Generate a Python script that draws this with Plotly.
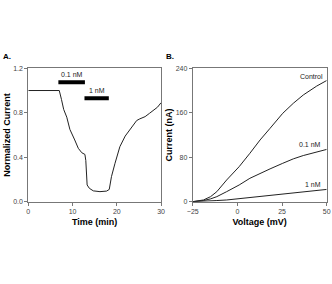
import plotly.graph_objects as go

# Panel A: normalized current vs time
time_min = [0, 2, 4, 6, 7.0, 7.5, 8.0, 8.7, 9.4, 10.5, 11.3, 12.1, 12.8, 13.0, 13.3, 13.8, 14.7, 16.2, 17.7, 18.3,
            18.8, 19.6, 20.7, 21.9, 23.4, 24.5, 25.2, 26.4, 27.4, 28.3, 29.2, 30]
norm_current = [1.0, 1.0, 0.995, 1.0, 1.0, 0.92, 0.83, 0.76, 0.65, 0.555, 0.48, 0.44, 0.425, 0.37, 0.15, 0.12, 0.097,
                0.09, 0.095, 0.11, 0.225, 0.345, 0.495, 0.59, 0.675, 0.73, 0.745, 0.765, 0.795, 0.825, 0.85, 0.89]

# Drug application periods (label, start, end, bar level)
drug_labels = ["0.1 nM", "1 nM"]
drug_start = [6.8, 12.7]
drug_end = [12.8, 18.2]
drug_level = [1.075, 0.93]

# Panel B: I-V curves
voltage_mv = [-25, -19, -15, -11.5, -6, 1, 7, 12.7, 18.3, 25.4, 31.3, 36.9, 44.4, 50]
control_na = [0, 3, 9, 18, 39, 63, 87, 111, 132, 159, 177, 192, 208, 218]
nm01_na = [0, 2, 5, 9, 18, 30, 42, 51, 59, 69, 77, 83, 89, 94]
nm1_na = [0, 0.5, 1, 2, 3, 5.4, 7.5, 10, 12, 14, 16, 17.5, 20, 22]
series_names = ["Control", "0.1 nM", "1 nM"]
label_pos_v = [41.5, 40.7, 42.5]
label_pos_i = [226, 102, 30]

fig = go.Figure()
line = dict(color="#222222", width=1)
fig.add_trace(go.Scatter(x=time_min, y=norm_current, mode="lines", line=line, xaxis="x", yaxis="y", showlegend=False))
for ys in [control_na, nm01_na, nm1_na]:
    fig.add_trace(go.Scatter(x=voltage_mv, y=ys, mode="lines", line=line, xaxis="x2", yaxis="y2", showlegend=False))

font_small = dict(family="Liberation Sans, Arial", size=7, color="#222222")
ann = []
shapes = []
for lab, s, e, lvl in zip(drug_labels, drug_start, drug_end, drug_level):
    shapes.append(dict(type="line", xref="x", yref="y", x0=s, x1=e, y0=lvl, y1=lvl,
                       line=dict(color="black", width=4)))
    ann.append(dict(x=(s + e) / 2, y=lvl, xref="x", yref="y", text=lab, showarrow=False,
                    yshift=8, font=font_small))
for lab, vx, vy in zip(series_names, label_pos_v, label_pos_i):
    ann.append(dict(x=vx, y=vy, xref="x2", yref="y2", text=lab, showarrow=False, font=font_small))

panel_font = dict(family="Liberation Sans, Arial", size=8, color="black")
ann.append(dict(x=0.003, y=0.8, xref="paper", yref="paper", text="<b>A.</b>", showarrow=False, xanchor="left",
                yanchor="middle", font=panel_font))
ann.append(dict(x=0.494, y=0.8, xref="paper", yref="paper", text="<b>B.</b>", showarrow=False, xanchor="left",
                yanchor="middle", font=panel_font))

title_font = dict(family="Liberation Sans, Arial", size=9, color="black")
axis_common = dict(showline=True, linecolor="#777777", linewidth=1, mirror=True, ticks="outside", ticklen=3,
                   tickcolor="#777777", tickfont=dict(family="Liberation Sans, Arial", size=7, color="#444444"),
                   showgrid=False, zeroline=False, automargin=False)

fig.update_layout(
    width=332, height=284, margin=dict(l=0, r=0, t=0, b=0, autoexpand=False),
    plot_bgcolor="white", paper_bgcolor="white",
    xaxis=dict(domain=[0.0852, 0.485], range=[0, 30], tickvals=[0, 10, 20, 30],
               title=dict(text="<b>Time (min)</b>", font=title_font, standoff=4), anchor="y", **axis_common),
    yaxis=dict(domain=[0.29, 0.7595], range=[0, 1.2], tickvals=[0, 0.4, 0.8, 1.2], tickformat=".1f",
               title=dict(text="<b>Normalized Current</b>", font=title_font, standoff=1), anchor="x", **axis_common),
    xaxis2=dict(domain=[0.5805, 0.984], range=[-25, 50], tickvals=[-25, 0, 25, 50],
                title=dict(text="<b>Voltage (mV)</b>", font=title_font, standoff=4), anchor="y2", **axis_common),
    yaxis2=dict(domain=[0.29, 0.7595], range=[0, 240], tickvals=[0, 80, 160, 240],
                title=dict(text="<b>Current (nA)</b>", font=title_font, standoff=1), anchor="x2", **axis_common),
    annotations=ann, shapes=shapes,
)

fig.write_html("out.html")
